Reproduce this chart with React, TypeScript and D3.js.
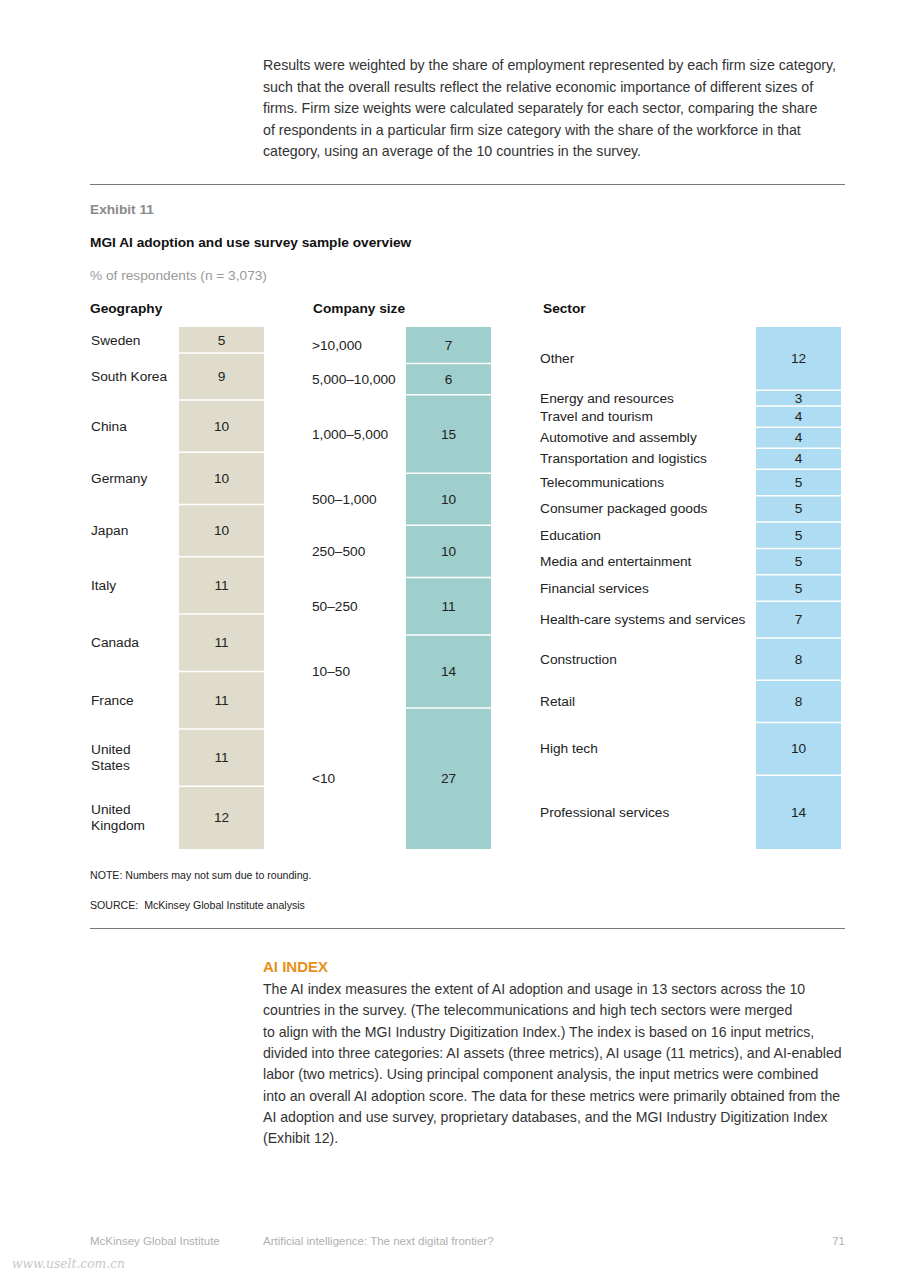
import React from "react";
import * as d3 from "d3";

const introLines = [
  "Results were weighted by the share of employment represented by each firm size category,",
  "such that the overall results reflect the relative economic importance of different sizes of",
  "firms. Firm size weights were calculated separately for each sector, comparing the share",
  "of respondents in a particular firm size category with the share of the workforce in that",
  "category, using an average of the 10 countries in the survey.",
];

const geoLabels = [["Sweden"], ["South Korea"], ["China"], ["Germany"], ["Japan"], ["Italy"], ["Canada"], ["France"], ["United", "States"], ["United", "Kingdom"]];
const geoValues = [5, 9, 10, 10, 10, 11, 11, 11, 11, 12];

const sizeLabels = [[">10,000"], ["5,000–10,000"], ["1,000–5,000"], ["500–1,000"], ["250–500"], ["50–250"], ["10–50"], ["<10"]];
const sizeValues = [7, 6, 15, 10, 10, 11, 14, 27];

const sectorLabels = [
  ["Other"], ["Energy and resources"], ["Travel and tourism"], ["Automotive and assembly"],
  ["Transportation and logistics"], ["Telecommunications"], ["Consumer packaged goods"],
  ["Education"], ["Media and entertainment"], ["Financial services"],
  ["Health-care systems and services"], ["Construction"], ["Retail"], ["High tech"], ["Professional services"],
];
const sectorValues = [12, 3, 4, 4, 4, 5, 5, 5, 5, 5, 7, 8, 8, 10, 14];

const indexLines = [
  "The AI index measures the extent of AI adoption and usage in 13 sectors across the 10",
  "countries in the survey. (The telecommunications and high tech sectors were merged",
  "to align with the MGI Industry Digitization Index.) The index is based on 16 input metrics,",
  "divided into three categories: AI assets (three metrics), AI usage (11 metrics), and AI-enabled",
  "labor (two metrics). Using principal component analysis, the input metrics were combined",
  "into an overall AI adoption score. The data for these metrics were primarily obtained from the",
  "AI adoption and use survey, proprietary databases, and the MGI Industry Digitization Index",
  "(Exhibit 12).",
];

const FONT = "'Liberation Sans', Arial, sans-serif";
const BODY = "'Liberation Sans', Arial, sans-serif";
const CS = 13.7;

type ColProps = {
  labels: string[][];
  values: number[];
  labelX: number;
  barX: number;
  barW: number;
  color: string;
};

function Column({ labels, values, labelX, barX, barW, color }: ColProps) {
  const total = d3.sum(values);
  const y = d3.scaleLinear().domain([0, total]).range([327, 849]);
  const cum = [0, ...d3.cumsum(values)];
  return (
    <g>
      {values.map((v, i) => {
        const y0 = y(cum[i]);
        const y1 = y(cum[i + 1]);
        const cy = (y0 + y1) / 2;
        const lines = labels[i];
        const lh = 16;
        return (
          <g key={i}>
            <rect x={barX} y={y0} width={barW} height={y1 - y0} fill={color} />
            {i > 0 && <line x1={barX} x2={barX + barW} y1={y0} y2={y0} stroke="#fff" strokeWidth={1.5} />}
            <text x={barX + barW / 2} y={cy} textAnchor="middle" dominantBaseline="central" fontSize={CS} fill="#222" fontFamily={FONT}>
              {v}
            </text>
            {lines.map((l, j) => (
              <text key={j} x={labelX} y={cy + (j - (lines.length - 1) / 2) * lh} dominantBaseline="central" fontSize={CS} fill="#222" fontFamily={FONT}>
                {l}
              </text>
            ))}
          </g>
        );
      })}
    </g>
  );
}

export default function App() {
  return (
    <svg width={905} height={1280} style={{ position: "absolute", left: 0, top: 0, background: "#fff" }}>
      <rect width={905} height={1280} fill="#fff" />
      {introLines.map((l, i) => (
        <text key={i} x={263} y={70 + i * 21.5} fontSize={14.2} fill="#333" fontFamily={BODY}>
          {l}
        </text>
      ))}
      <line x1={90} x2={845} y1={184.5} y2={184.5} stroke="#777" strokeWidth={1} />
      <text x={90} y={214} fontSize={CS} fontWeight="bold" fill="#8a8a8a" fontFamily={FONT}>Exhibit 11</text>
      <text x={90} y={247} fontSize={CS} fontWeight="bold" fill="#111" fontFamily={FONT}>MGI AI adoption and use survey sample overview</text>
      <text x={90} y={280} fontSize={CS} fill="#999" fontFamily={FONT}>% of respondents (n = 3,073)</text>
      <text x={90} y={313} fontSize={CS} fontWeight="bold" fill="#111" fontFamily={FONT}>Geography</text>
      <text x={313} y={313} fontSize={CS} fontWeight="bold" fill="#111" fontFamily={FONT}>Company size</text>
      <text x={543} y={313} fontSize={CS} fontWeight="bold" fill="#111" fontFamily={FONT}>Sector</text>

      <Column labels={geoLabels} values={geoValues} labelX={91} barX={179} barW={85} color="#dfdccb" />
      <Column labels={sizeLabels} values={sizeValues} labelX={312} barX={406} barW={85} color="#9fcfcc" />
      <Column labels={sectorLabels} values={sectorValues} labelX={540} barX={756} barW={85} color="#aedcf3" />

      <text x={90} y={879} fontSize={10.6} fill="#222" fontFamily={FONT}>NOTE: Numbers may not sum due to rounding.</text>
      <text x={90} y={909} fontSize={10.6} fill="#222" fontFamily={FONT} xmlSpace="preserve">SOURCE:  McKinsey Global Institute analysis</text>
      <line x1={90} x2={845} y1={928.5} y2={928.5} stroke="#777" strokeWidth={1} />

      <text x={263} y={972} fontSize={15} fontWeight="bold" fill="#e8901a" fontFamily={BODY}>AI INDEX</text>
      {indexLines.map((l, i) => (
        <text key={i} x={263} y={994 + i * 21.3} fontSize={14.1} fill="#333" fontFamily={BODY}>
          {l}
        </text>
      ))}

      <text x={90} y={1245} fontSize={11.5} fill="#b0b0b0" fontFamily={BODY}>McKinsey Global Institute</text>
      <text x={263} y={1245} fontSize={11.5} fill="#b0b0b0" fontFamily={BODY}>Artificial intelligence: The next digital frontier?</text>
      <text x={845} y={1245} fontSize={11.5} fill="#b0b0b0" textAnchor="end" fontFamily={BODY}>71</text>
      <text x={12} y={1268} fontSize={12.3} fill="#c8c8c8" fontStyle="italic" fontFamily="'DejaVu Serif', serif">www.uselt.com.cn</text>
    </svg>
  );
}
